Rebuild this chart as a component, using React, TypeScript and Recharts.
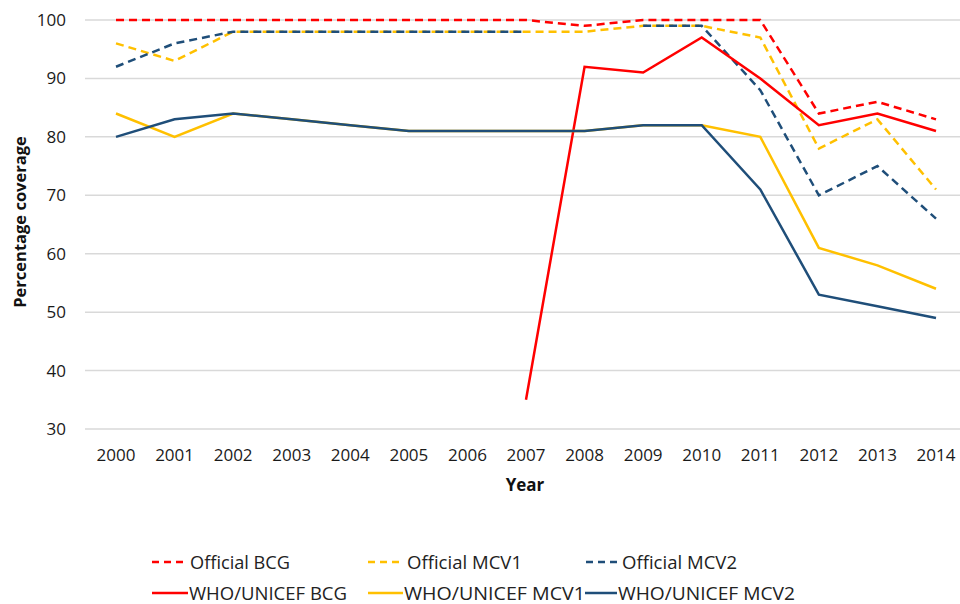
import React from 'react';
import { LineChart, Line, XAxis, YAxis, CartesianGrid, Legend } from 'recharts';

const years = ['2000', '2001', '2002', '2003', '2004', '2005', '2006', '2007', '2008', '2009', '2010', '2011', '2012', '2013', '2014'];
const officialBCG = [100, 100, 100, 100, 100, 100, 100, 100, 99, 100, 100, 100, 84, 86, 83];
const officialMCV1 = [96, 93, 98, 98, 98, 98, 98, 98, 98, 99, 99, 97, 78, 83, 71];
const officialMCV2 = [92, 96, 98, 98, 98, 98, 98, 98, null, 99, 99, 88, 70, 75, 66];
const whoBCG = [null, null, null, null, null, null, null, 35, 92, 91, 97, 90, 82, 84, 81];
const whoMCV1 = [84, 80, 84, 83, 82, 81, 81, 81, 81, 82, 82, 80, 61, 58, 54];
const whoMCV2 = [80, 83, 84, 83, 82, 81, 81, 81, 81, 82, 82, 71, 53, 51, 49];
const yTicks = [30, 40, 50, 60, 70, 80, 90, 100];

const RED = '#FF0000';
const GOLD = '#FFC000';
const NAVY = '#1F4E79';

const data = years.map((y, i) => ({
  year: y,
  officialBCG: officialBCG[i],
  officialMCV1: officialMCV1[i],
  officialMCV2: officialMCV2[i],
  whoBCG: whoBCG[i],
  whoMCV1: whoMCV1[i],
  whoMCV2: whoMCV2[i],
}));

const FONT = '"Open Sans", "DejaVu Sans", sans-serif';
const DASH = '8 5';

const legendItems = [
  { name: 'Official BCG', color: RED, dashed: true, x1: 152, x2: 183, tx: 190, y: 562, w: 100 },
  { name: 'Official MCV1', color: GOLD, dashed: true, x1: 368, x2: 399, tx: 407, y: 562, w: 115 },
  { name: 'Official MCV2', color: NAVY, dashed: true, x1: 586, x2: 617, tx: 622, y: 562, w: 115 },
  { name: 'WHO/UNICEF BCG', color: RED, dashed: false, x1: 152, x2: 188, tx: 189, y: 593, w: 158 },
  { name: 'WHO/UNICEF MCV1', color: GOLD, dashed: false, x1: 368, x2: 403, tx: 404, y: 593, w: 181 },
  { name: 'WHO/UNICEF MCV2', color: NAVY, dashed: false, x1: 585, x2: 617, tx: 618, y: 593, w: 177 },
];

const LEGEND_TOP = 504;

const CustomLegend = () => (
  <svg width={960} height={100} style={{ display: 'block' }}>
    {legendItems.map((it) => (
      <g key={it.name}>
        <line
          x1={it.x1}
          x2={it.x2}
          y1={it.y - LEGEND_TOP}
          y2={it.y - LEGEND_TOP}
          stroke={it.color}
          strokeWidth={2.5}
          strokeDasharray={it.dashed ? '7 5' : undefined}
        />
        <text
          x={it.tx}
          y={it.y - LEGEND_TOP}
          dominantBaseline="central"
          fontFamily={FONT}
          fontSize={17.5}
          fill="#222"
          textLength={it.w}
          lengthAdjust="spacingAndGlyphs"
        >
          {it.name}
        </text>
      </g>
    ))}
  </svg>
);

export default function App() {
  return (
    <div style={{ position: 'absolute', left: 0, top: 0, width: 960, height: 604, overflow: 'hidden', background: '#fff' }}>
      <LineChart width={965} height={604} data={data} margin={{ top: 20, right: 0, bottom: 0, left: 0 }}>
        <CartesianGrid vertical={false} stroke="#D9D9D9" strokeWidth={1.5} />
        <XAxis
          dataKey="year"
          type="category"
          padding={{ left: 31, right: 29 }}
          axisLine={false}
          tickLine={false}
          tickSize={0}
          tickMargin={20}
          height={75}
          interval={0}
          tick={{ fontFamily: FONT, fontSize: 17, fill: '#1a1a1a' }}
          label={{ value: 'Year', position: 'insideBottom', offset: 13, fontFamily: FONT, fontSize: 17, fontWeight: 700, fill: '#111' }}
        />
        <YAxis
          domain={[30, 100]}
          ticks={yTicks}
          width={85}
          axisLine={false}
          tickLine={false}
          tickSize={0}
          tickMargin={19}
          tick={{ fontFamily: FONT, fontSize: 17, fill: '#1a1a1a' }}
          label={{
            content: () => (
              <text
                transform="translate(19, 222) rotate(-90)"
                textAnchor="middle"
                dominantBaseline="central"
                fontFamily={FONT}
                fontSize={16.5}
                fontWeight={700}
                fill="#111"
              >
                Percentage coverage
              </text>
            ),
          }}
        />
        <Legend
          verticalAlign="bottom"
          content={() => <CustomLegend />}
          wrapperStyle={{ left: 0, bottom: 0, width: 960, height: 100 }}
        />
        <Line dataKey="officialBCG" name="Official BCG" stroke={RED} strokeWidth={2.5} strokeDasharray={DASH} dot={false} isAnimationActive={false} />
        <Line dataKey="officialMCV1" name="Official MCV1" stroke={GOLD} strokeWidth={2.5} strokeDasharray={DASH} dot={false} isAnimationActive={false} />
        <Line dataKey="officialMCV2" name="Official MCV2" stroke={NAVY} strokeWidth={2.5} strokeDasharray={DASH} dot={false} isAnimationActive={false} />
        <Line dataKey="whoBCG" name="WHO/UNICEF BCG" stroke={RED} strokeWidth={2.5} dot={false} isAnimationActive={false} />
        <Line dataKey="whoMCV1" name="WHO/UNICEF MCV1" stroke={GOLD} strokeWidth={2.5} dot={false} isAnimationActive={false} />
        <Line dataKey="whoMCV2" name="WHO/UNICEF MCV2" stroke={NAVY} strokeWidth={2.5} dot={false} isAnimationActive={false} />
      </LineChart>
    </div>
  );
}
